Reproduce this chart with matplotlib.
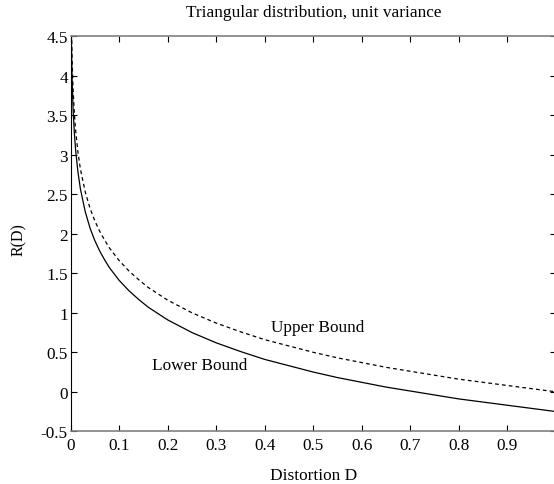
import matplotlib
matplotlib.use("Agg")
import matplotlib.pyplot as plt

# Distortion values (x) and rates
distortion = [0.001, 0.002, 0.003, 0.005, 0.0075, 0.01, 0.015, 0.02, 0.03, 0.04,
              0.05, 0.06, 0.07, 0.08, 0.10, 0.12, 0.14, 0.16, 0.18, 0.20,
              0.25, 0.30, 0.35, 0.40, 0.45, 0.50, 0.55, 0.60, 0.65, 0.70,
              0.75, 0.80, 0.85, 0.90, 0.95, 1.00]
upper_bound = [4.98, 4.48, 4.19, 3.82, 3.53, 3.32, 3.03, 2.82, 2.53, 2.32,
               2.16, 2.03, 1.92, 1.82, 1.66, 1.53, 1.42, 1.32, 1.24, 1.16,
               1.00, 0.87, 0.76, 0.66, 0.58, 0.50, 0.43, 0.37, 0.31, 0.26,
               0.21, 0.16, 0.12, 0.08, 0.04, 0.00]
lower_bound = [4.73, 4.23, 3.94, 3.57, 3.28, 3.07, 2.78, 2.57, 2.28, 2.07,
               1.91, 1.78, 1.67, 1.57, 1.41, 1.28, 1.17, 1.07, 0.99, 0.91,
               0.75, 0.62, 0.51, 0.41, 0.33, 0.25, 0.18, 0.12, 0.06, 0.01,
               -0.04, -0.09, -0.13, -0.17, -0.21, -0.25]

x_ticks = [0, 0.1, 0.2, 0.3, 0.4, 0.5, 0.6, 0.7, 0.8, 0.9]
x_tick_labels = ["0", "0.1", "0.2", "0.3", "0.4", "0.5", "0.6", "0.7", "0.8", "0.9"]
y_ticks = [-0.5, 0, 0.5, 1, 1.5, 2, 2.5, 3, 3.5, 4, 4.5]
y_tick_labels = ["-0.5", "0", "0.5", "1", "1.5", "2", "2.5", "3", "3.5", "4", "4.5"]

plt.rcParams['font.family'] = ['Liberation Serif', 'DejaVu Serif']
FS = 12.4

fig = plt.figure(figsize=(5.54, 4.85), dpi=100)
ax = fig.add_axes([0.1276, 0.1087, 0.8753, 0.8144])

ax.plot(distortion, lower_bound, color='black', lw=0.9, linestyle='-')
ax.plot(distortion, upper_bound, color='black', lw=0.9, linestyle=(0, (3, 2.5)))

ax.set_xlim(0, 1)
ax.set_ylim(-0.5, 4.5)
ax.set_xticks(x_ticks)
ax.set_xticklabels(x_tick_labels, fontsize=FS)
ax.set_yticks(y_ticks)
ax.set_yticklabels(y_tick_labels, fontsize=FS)
ax.tick_params(axis='x', direction='in', length=4, width=0.8, top=True, pad=4)
ax.tick_params(axis='y', direction='in', length=4, width=0.8, right=True, pad=2)

for side in ['top', 'bottom']:
    ax.spines[side].set_color('#808080')
    ax.spines[side].set_linewidth(1.2)
ax.spines['left'].set_color('black')
ax.spines['left'].set_linewidth(0.8)
ax.spines['right'].set_color('#808080')

ax.text(0.414, 0.82, "Upper Bound", fontsize=FS, ha='left', va='center')
ax.text(0.168, 0.34, "Lower Bound", fontsize=FS, ha='left', va='center')

fig.text(313.5 / 554, 1 - 13 / 485, "Triangular distribution, unit variance",
         fontsize=FS, ha='center', va='center')
fig.text(313.5 / 554, 1 - 476 / 485, "Distortion D", fontsize=FS, ha='center', va='center')
fig.text(19 / 554, 1 - 240 / 485, "R(D)", fontsize=11.5, ha='center', va='center', rotation=90)

fig.savefig("out.png", dpi=100)
